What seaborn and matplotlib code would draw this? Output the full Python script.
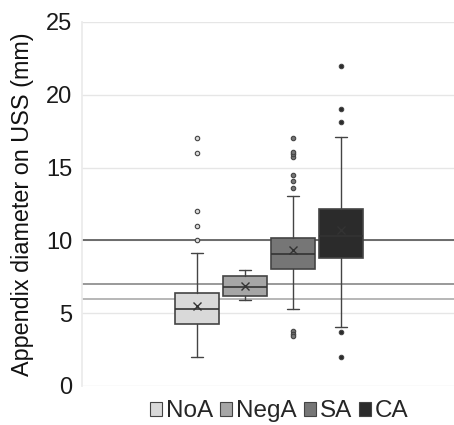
import matplotlib
matplotlib.use("Agg")
import matplotlib.pyplot as plt
import seaborn as sns
from matplotlib.patches import Patch

groups = ["NoA", "NegA", "SA", "CA"]
q1 = [4.24, 6.16, 8.01, 8.79]
median = [5.29, 6.80, 9.04, 10.33]
q3 = [6.41, 7.53, 10.16, 12.16]
mean = [5.49, 6.87, 9.31, 10.71]
whisker_low = [1.97, 5.88, 5.31, 4.08]
whisker_high = [9.11, 7.99, 13.05, 17.08]
outliers = [
    [10.0, 11.0, 12.0, 16.0, 17.0],
    [],
    [13.6, 14.1, 14.5, 15.7, 15.9, 16.1, 17.0, 3.8, 3.6, 3.4],
    [18.1, 19.0, 22.0, 3.7, 2.0],
]
ref_lines = [10, 7, 6]
ref_colors = ["#555555", "#888888", "#aaaaaa"]
colors = ["#d9d9d9", "#a6a6a6", "#767676", "#2b2b2b"]
yticks = [0, 5, 10, 15, 20, 25]

sns.set_theme(style="white")
plt.rcParams["font.family"] = ["Liberation Sans", "DejaVu Sans"]

fig = plt.figure(figsize=(4.54, 4.25), dpi=100)
ax = fig.add_axes([82 / 454, 1 - 386 / 425, 1 - 82 / 454, (386 - 22) / 425])

for yv in yticks:
    ax.axhline(yv, color="#e6e6e6", lw=1, zorder=0)
for yv, c in zip(ref_lines, ref_colors):
    ax.axhline(yv, color=c, lw=1.2, zorder=1)

edge = "#444444"
for i, g in enumerate(groups):
    st = dict(label=g, q1=q1[i], med=median[i], q3=q3[i], mean=mean[i],
              whislo=whisker_low[i], whishi=whisker_high[i], fliers=outliers[i])
    ax.bxp([st], positions=[i], widths=0.9, capwidths=0.25, showmeans=True,
           patch_artist=True, manage_ticks=False,
           boxprops=dict(facecolor=colors[i], edgecolor=edge, lw=1.2),
           medianprops=dict(color="#333333", lw=1.2),
           whiskerprops=dict(color=edge, lw=1.0),
           capprops=dict(color=edge, lw=1.0),
           meanprops=dict(marker="x", markeredgecolor="#333333", markersize=6, markeredgewidth=1.0),
           flierprops=dict(marker="o", markersize=3.2, markerfacecolor=colors[i],
                           markeredgecolor="#444444", markeredgewidth=0.8),
           zorder=3)

ax.set_xlim(-115 / 48, 257 / 48)
ax.set_ylim(0, 25)
ax.set_yticks(yticks)
ax.set_xticks([])
ax.tick_params(axis="y", labelsize=17, length=0, pad=7, colors="#1a1a1a")
for s in ["top", "right", "bottom"]:
    ax.spines[s].set_visible(False)
ax.spines["left"].set_color("#ebebeb")
ax.set_ylabel("Appendix diameter on USS (mm)", fontsize=16.8, color="#111111", labelpad=9)

handles = [Patch(facecolor=c, edgecolor="#444444", lw=0.8) for c in colors]
fig.legend(handles, groups, loc="lower center", bbox_to_anchor=(0.615, -0.045), ncol=4,
           frameon=False, fontsize=17.5, handlelength=0.5, handleheight=0.5,
           handletextpad=0.15, columnspacing=0.3)

fig.savefig("out.png", dpi=100)
